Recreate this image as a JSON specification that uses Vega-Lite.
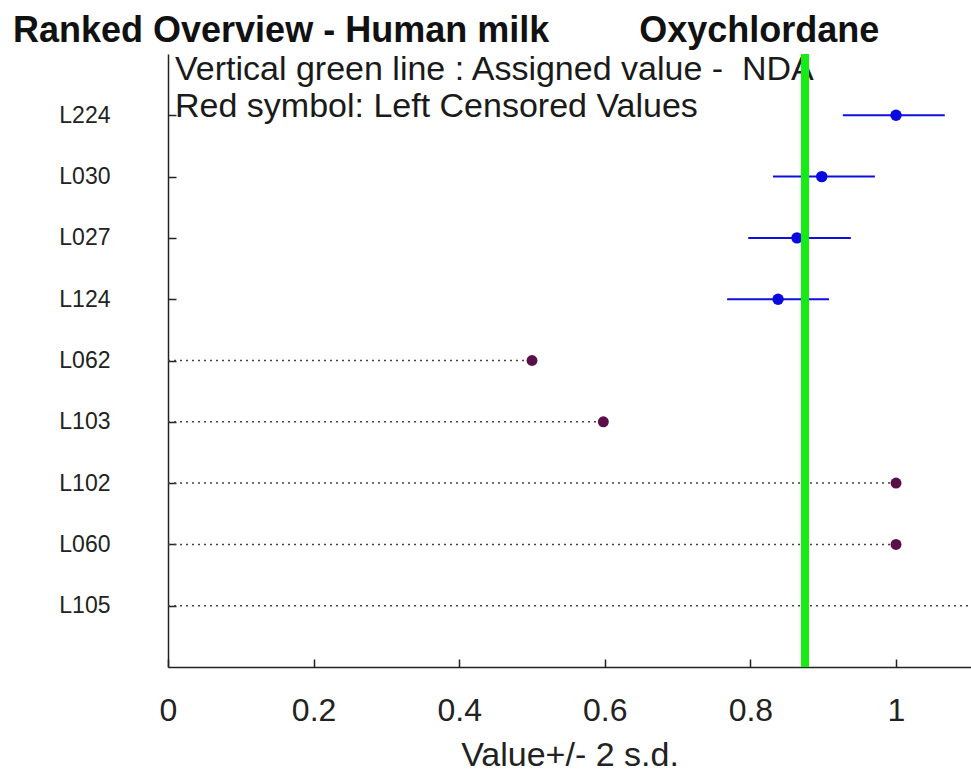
{
  "$schema": "https://vega.github.io/schema/vega-lite/v6.json",
  "autosize": {"type": "none"},
  "padding": {"left": 168, "top": 54, "right": 0, "bottom": 108},
  "width": 803,
  "height": 613,
  "background": "white",
  "config": {
    "view": {"stroke": null},
    "font": "Liberation Sans"
  },
  "title": {
    "text": "Ranked Overview - Human milk\u00a0\u00a0\u00a0\u00a0\u00a0\u00a0\u00a0\u00a0\u00a0Oxychlordane",
    "anchor": "start",
    "frame": "group",
    "dx": -155,
    "offset": -28,
    "baseline": "alphabetic",
    "font": "Liberation Sans",
    "fontSize": 36,
    "fontWeight": "bold",
    "color": "#111111"
  },
  "datasets": {
    "labs": [
      {"lab": "L224", "value": 1.0, "lo": 0.927, "hi": 1.067, "censored": false},
      {"lab": "L030", "value": 0.898, "lo": 0.831, "hi": 0.971, "censored": false},
      {"lab": "L027", "value": 0.864, "lo": 0.797, "hi": 0.938, "censored": false},
      {"lab": "L124", "value": 0.838, "lo": 0.768, "hi": 0.908, "censored": false},
      {"lab": "L062", "value": 0.5, "lo": 0, "hi": 0.5, "censored": true},
      {"lab": "L103", "value": 0.598, "lo": 0, "hi": 0.598, "censored": true},
      {"lab": "L102", "value": 1.0, "lo": 0, "hi": 1.0, "censored": true},
      {"lab": "L060", "value": 1.0, "lo": 0, "hi": 1.0, "censored": true},
      {"lab": "L105", "value": 1.3, "lo": 0, "hi": 1.3, "censored": true}
    ],
    "notes": [
      {"note": "Vertical green line : Assigned value -\u00a0\u00a0NDA", "nx": 0.0096, "ny": 9.576},
      {"note": "Red symbol: Left Censored Values", "nx": 0.0096, "ny": 8.972}
    ],
    "assigned": [{"assigned": 0.875}]
  },
  "layer": [
    {
      "layer": [
        {
          "data": {"name": "labs"},
          "transform": [{"filter": "datum.censored"}],
          "mark": {"type": "rule", "color": "#444444", "strokeWidth": 1.5, "strokeDash": [2, 4], "clip": true},
          "encoding": {
            "y": {
              "field": "lab", "type": "nominal",
              "scale": {"type": "point", "padding": 1, "domain": ["L224", "L030", "L027", "L124", "L062", "L103", "L102", "L060", "L105"]},
              "axis": {
                "title": null, "domainColor": "#222222", "domainWidth": 1.5, "tickColor": "#222222", "tickSize": -8, "tickWidth": 1.5,
                "labelFont": "Liberation Sans", "labelFontSize": 23, "labelColor": "#222222", "labelPadding": 66
              }
            },
            "x": {
              "field": "lo", "type": "quantitative",
              "scale": {"domain": [0, 1.103], "nice": false, "zero": false},
              "axis": {
                "title": "Value+/- 2 s.d.", "titleFont": "Liberation Sans", "titleFontSize": 34, "titleFontWeight": "normal", "titleColor": "#222222", "titlePadding": 12,
                "values": [0, 0.2, 0.4, 0.6, 0.8, 1], "format": "~g", "grid": false, "labelFlush": false,
                "domainColor": "#222222", "domainWidth": 1.5, "tickColor": "#222222", "tickSize": -8, "tickWidth": 1.5,
                "labelFont": "Liberation Sans", "labelFontSize": 32, "labelColor": "#222222", "labelPadding": 36
              }
            },
            "x2": {"field": "hi"}
          }
        },
        {
          "data": {"name": "labs"},
          "transform": [{"filter": "datum.censored"}],
          "mark": {"type": "point", "filled": true, "opacity": 1, "size": 120, "color": "#5a0f48", "clip": true},
          "encoding": {
            "y": {"field": "lab", "type": "nominal"},
            "x": {"field": "value", "type": "quantitative"}
          }
        },
        {
          "data": {"name": "labs"},
          "transform": [{"filter": "!datum.censored"}],
          "mark": {"type": "rule", "color": "#1010dd", "strokeWidth": 2},
          "encoding": {
            "y": {"field": "lab", "type": "nominal"},
            "x": {"field": "lo", "type": "quantitative"},
            "x2": {"field": "hi"}
          }
        },
        {
          "data": {"name": "labs"},
          "transform": [{"filter": "!datum.censored"}],
          "mark": {"type": "point", "filled": true, "opacity": 1, "size": 130, "color": "#0a0ae0"},
          "encoding": {
            "y": {"field": "lab", "type": "nominal"},
            "x": {"field": "value", "type": "quantitative"}
          }
        }
      ]
    },
    {
      "data": {"name": "notes"},
      "mark": {"type": "text", "align": "left", "baseline": "alphabetic", "font": "Liberation Sans", "fontSize": 34, "color": "#1a1a1a"},
      "encoding": {
        "x": {"field": "nx", "type": "quantitative"},
        "y": {"field": "ny", "type": "quantitative", "scale": {"domain": [0, 10], "nice": false, "zero": false}, "axis": null},
        "text": {"field": "note"}
      }
    },
    {
      "data": {"name": "assigned"},
      "mark": {"type": "rule", "color": "#14ec14", "strokeWidth": 8},
      "encoding": {
        "x": {"field": "assigned", "type": "quantitative"}
      }
    }
  ],
  "resolve": {"scale": {"y": "independent"}}
}
